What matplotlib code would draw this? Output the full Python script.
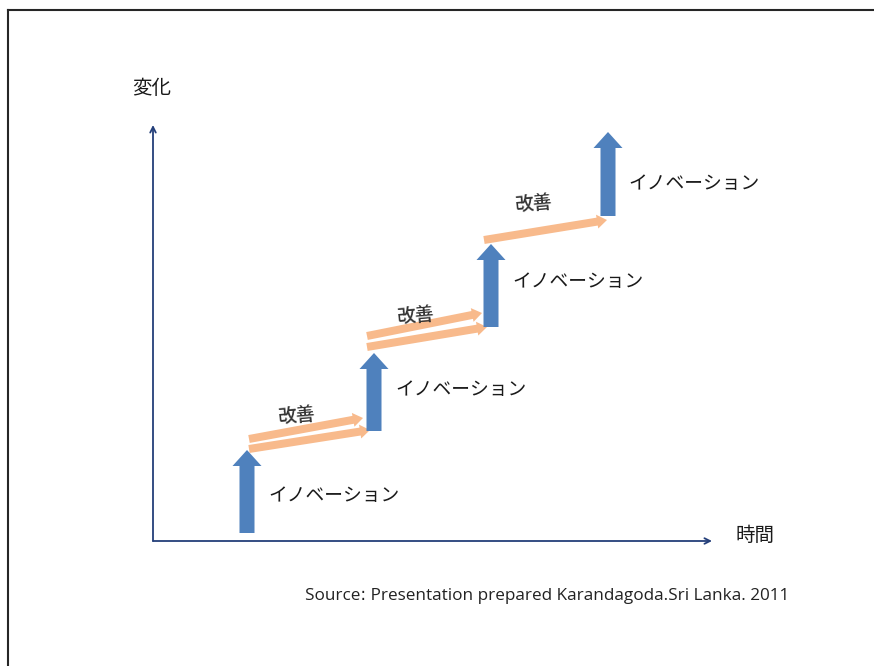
import matplotlib
matplotlib.use("Agg")
import matplotlib.pyplot as plt
from matplotlib.patches import FancyArrow
from matplotlib.lines import Line2D

plt.rcParams['font.family'] = ['Noto Sans CJK JP', 'DejaVu Sans']

# イノベーション (blue vertical steps): x position, bottom, top
innov_x = [94, 221, 338, 455]
innov_bottom = [8, 110, 214, 325]
innov_top = [91, 188, 297, 409]
innov_label_x = [115, 242, 359, 475]
innov_label_y = [45, 151, 260, 357]

# 改善 (orange sloped arrows): start / end points
kaizen_x0 = [96, 96, 214, 214, 331]
kaizen_y0 = [102, 92, 205, 194, 301]
kaizen_x1 = [210, 217, 329, 334, 454]
kaizen_y1 = [123, 111, 228, 214, 321]
kaizen_label_x = [144, 263, 381]
kaizen_label_y = [125, 225, 337]

axis_x_end = 559
axis_y_end = 416

innov_text = "イノベーション"
kaizen_text = "改善"
y_label = "変化"
x_label = "時間"
source_text = "Source꞉ Presentation prepared Karandagoda.Sri Lanka. 2011"

blue = '#4F81BD'
orange = '#F8BA8C'
navy = '#243F7A'

fig = plt.figure(figsize=(8.74, 6.66), dpi=100)
ax = fig.add_axes([0, 0, 1, 1])
ax.set_xlim(-153, 721)
ax.set_ylim(-125, 541)
ax.axis('off')

# frame round the picture
fig.add_artist(Line2D([8 / 874, 8 / 874], [0, 656 / 666], color='#262626', lw=1.5))
fig.add_artist(Line2D([8 / 874, 1], [656 / 666, 656 / 666], color='#262626', lw=1.5))

# axes with arrow tips
ax.annotate('', xy=(0, axis_y_end), xytext=(0, 0),
            arrowprops=dict(arrowstyle='->', color=navy, lw=1.3, shrinkA=0, shrinkB=0))
ax.annotate('', xy=(axis_x_end, 0), xytext=(0, 0),
            arrowprops=dict(arrowstyle='->', color=navy, lw=1.3, shrinkA=0, shrinkB=0))
ax.text(-1, 453, y_label, fontsize=14, ha='center', va='center', color='#1a1a1a')
ax.text(602, 6, x_label, fontsize=14, ha='center', va='center', color='#1a1a1a')

# orange arrows
for x0, y0, x1, y1 in zip(kaizen_x0, kaizen_y0, kaizen_x1, kaizen_y1):
    ax.add_patch(FancyArrow(x0, y0, x1 - x0, y1 - y0, width=8, head_width=14,
                            head_length=10, length_includes_head=True,
                            color=orange, lw=0))

# blue arrows
for x, b, t in zip(innov_x, innov_bottom, innov_top):
    ax.add_patch(FancyArrow(x, b, 0, t - b, width=15, head_width=29,
                            head_length=16, length_includes_head=True,
                            color=blue, lw=0))

for x, y in zip(innov_label_x, innov_label_y):
    ax.text(x, y, innov_text, fontsize=13.5, ha='left', va='center', color='#1a1a1a')

for x, y in zip(kaizen_label_x, kaizen_label_y):
    ax.text(x, y, kaizen_text, fontsize=13.5, ha='center', va='center',
            rotation=5, color='#333333', fontweight='medium')

ax.text(152, -55, source_text, fontsize=12.3, ha='left', va='center',
        color='#222222', family=['Open Sans', 'DejaVu Sans', 'Noto Sans CJK JP'])

fig.savefig('out.png', dpi=100)
